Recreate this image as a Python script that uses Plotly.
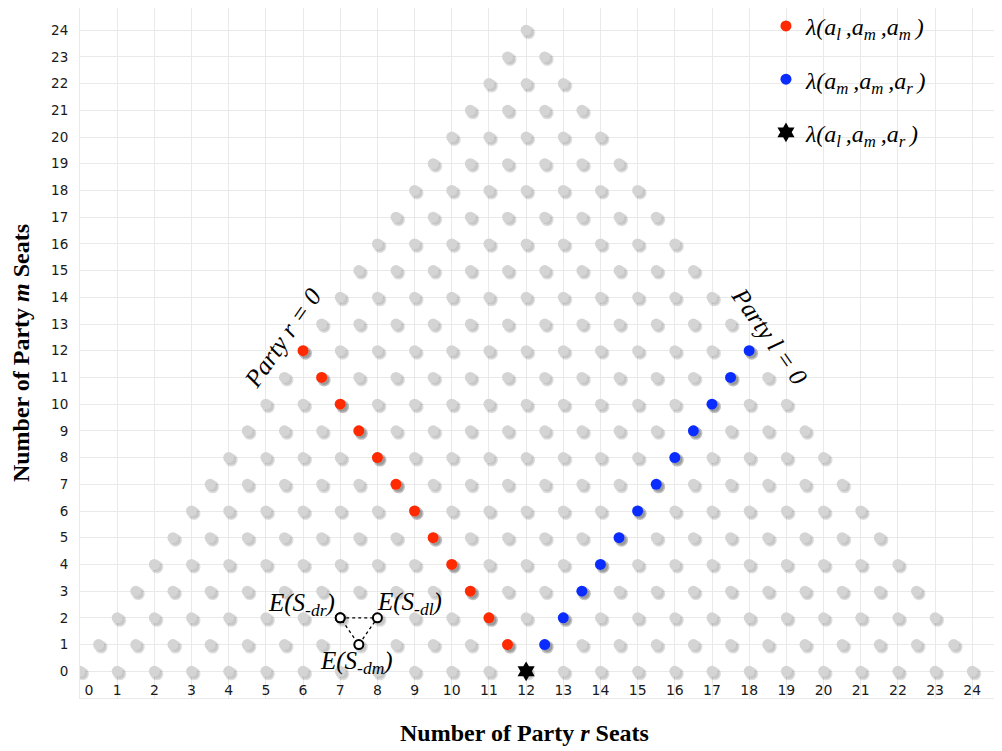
import plotly.graph_objects as go

# ---------------- data ----------------
total_seats = 24
m_levels = list(range(total_seats + 1))

# full lattice of feasible seat outcomes (gray dots)
lattice_x = []
lattice_y = []
for m in m_levels:
    for k in range(total_seats - m + 1):
        lattice_x.append(m / 2 + k)
        lattice_y.append(m)

red_x = [6, 6.5, 7, 7.5, 8, 8.5, 9, 9.5, 10, 10.5, 11, 11.5]
red_y = [12, 11, 10, 9, 8, 7, 6, 5, 4, 3, 2, 1]

blue_x = [12.5, 13, 13.5, 14, 14.5, 15, 15.5, 16, 16.5, 17, 17.5, 18]
blue_y = [1, 2, 3, 4, 5, 6, 7, 8, 9, 10, 11, 12]

star_x = [12]
star_y = [0]

est_x = [7, 8, 7.5, 7]
est_y = [2, 2, 1, 2]

x_ticks = list(range(0, 25))
y_ticks = list(range(0, 25))
x_tick_text = ["\u00a0\u00a0\u00a0\u00a00"] + [str(v) for v in x_ticks[1:]]

TS = "\u2009"
red_name = f"<i>λ(a<sub>l</sub>{TS},a<sub>m</sub>{TS},a<sub>m</sub>{TS})</i>"
blue_name = f"<i>λ(a<sub>m</sub>{TS},a<sub>m</sub>{TS},a<sub>r</sub>{TS})</i>"
star_name = f"<i>λ(a<sub>l</sub>{TS},a<sub>m</sub>{TS},a<sub>r</sub>{TS})</i>"

x_title = "<b>Number of Party <i>r</i> Seats</b>"
y_title = "<b>Number of Party <i>m</i> Seats</b>"

# ---------------- style ----------------
GRID = "#e9e9e9"
GRAY = "#d4d4d4"
RED = "#ff2a00"
BLUE = "#0a2cff"
SERIF = "Liberation Serif, Times New Roman, serif"
SANS = "DejaVu Sans, Verdana, sans-serif"
X_RANGE = [0, 24.8]
Y_RANGE = [-1, 24.83]
L, R, T, B = 72, 0, 0, 53
W, H = 994, 743
px_x = (X_RANGE[1] - X_RANGE[0]) / (W - L - R)
px_y = (Y_RANGE[1] - Y_RANGE[0]) / (H - T - B)
SH = 2.5  # shadow offset, pixels

fig = go.Figure()

# shadows (on shifted overlay axes)
shadow_sets = [(lattice_x, lattice_y), (red_x, red_y), (blue_x, blue_y)]
for sx, sy in shadow_sets:
    fig.add_trace(go.Scatter(x=sx, y=sy, mode="markers", xaxis="x2", yaxis="y2",
                             marker=dict(size=13, color="rgba(0,0,0,0.13)"),
                             hoverinfo="skip", showlegend=False))
    fig.add_trace(go.Scatter(x=sx, y=sy, mode="markers", xaxis="x2", yaxis="y2",
                             marker=dict(size=10, color="rgba(0,0,0,0.10)"),
                             hoverinfo="skip", showlegend=False))

# gray lattice
fig.add_trace(go.Scatter(x=lattice_x, y=lattice_y, mode="markers", xaxis="x3", yaxis="y3",
                         marker=dict(size=11, color=GRAY), showlegend=False,
                         hoverinfo="x+y"))
# red / blue
fig.add_trace(go.Scatter(x=red_x, y=red_y, mode="markers", xaxis="x3", yaxis="y3",
                         marker=dict(size=11, color=RED), name=red_name, legendgroup="a"))
fig.add_trace(go.Scatter(x=blue_x, y=blue_y, mode="markers", xaxis="x3", yaxis="y3",
                         marker=dict(size=11, color=BLUE), name=blue_name, legendgroup="b"))
# star
fig.add_trace(go.Scatter(x=star_x, y=star_y, mode="markers", xaxis="x3", yaxis="y3",
                         marker=dict(size=15, color="black", symbol="hexagram"),
                         name=star_name, legendgroup="c"))
# expected-value triangle
fig.add_trace(go.Scatter(x=est_x, y=est_y, mode="lines+markers", xaxis="x3", yaxis="y3",
                         line=dict(color="black", width=1.3, dash="dot"),
                         marker=dict(size=9, color="white", line=dict(color="black", width=2)),
                         showlegend=False))

axis_common = dict(showgrid=False, zeroline=False, showticklabels=False, visible=False)

fig.update_layout(
    width=W, height=H,
    margin=dict(l=L, r=R, t=T, b=B, autoexpand=False),
    plot_bgcolor="white", paper_bgcolor="white",
    xaxis=dict(range=X_RANGE, tickvals=x_ticks, ticktext=x_tick_text,
               ticklabelposition="inside", ticklabeloverflow="allow",
               showgrid=True, gridcolor=GRID, gridwidth=1, zeroline=False,
               showline=True, linecolor=GRID, linewidth=1, mirror=True,
               tickfont=dict(family=SANS, size=14, color="#1a1a1a")),
    yaxis=dict(range=Y_RANGE, tickvals=y_ticks,
               showgrid=True, gridcolor=GRID, gridwidth=1, zeroline=False,
               showline=True, linecolor=GRID, linewidth=1, mirror=True,
               ticks="outside", ticklen=8, tickcolor="rgba(0,0,0,0)",
               tickfont=dict(family=SANS, size=13.5, color="#1a1a1a"),
               title=dict(text=y_title,
                          font=dict(family=SERIF, size=24, color="black"), standoff=14)),
    xaxis2=dict(range=[X_RANGE[0] - SH * px_x, X_RANGE[1] - SH * px_x], overlaying="x", **axis_common),
    yaxis2=dict(range=[Y_RANGE[0] + SH * px_y, Y_RANGE[1] + SH * px_y], overlaying="y", **axis_common),
    xaxis3=dict(range=X_RANGE, overlaying="x", **axis_common),
    yaxis3=dict(range=Y_RANGE, overlaying="y", **axis_common),
    legend=dict(x=0.744, y=1.006, xanchor="left", yanchor="top",
                font=dict(family=SERIF, size=24, color="black"),
                bgcolor="rgba(0,0,0,0)", tracegroupgap=19, itemwidth=30),
    showlegend=True,
)

# x-axis title (positioned like the reference, slightly left of the plot centre)
fig.add_annotation(xref="paper", yref="paper", x=0.4826, y=-35 / 690,
                   xanchor="center", yanchor="middle", showarrow=False,
                   text=x_title, font=dict(family=SERIF, size=24, color="black"))

ann_font = dict(family=SERIF, size=25, color="black")
annotations = [
    dict(x=5.46, y=12.5, text="<i>Party r = 0</i>", textangle=-55),
    dict(x=18.56, y=12.55, text="<i>Party l = 0</i>", textangle=55),
    dict(x=5.97, y=2.5, text="<i>E(S<sub>-dr</sub>)</i>", textangle=0),
    dict(x=8.85, y=2.55, text="<i>E(S<sub>-dl</sub>)</i>", textangle=0),
    dict(x=7.45, y=0.34, text="<i>E(S<sub>-dm</sub>)</i>", textangle=0),
]
for a in annotations:
    fig.add_annotation(xref="x", yref="y", showarrow=False, font=ann_font, **a)

fig.write_html("out.html")
